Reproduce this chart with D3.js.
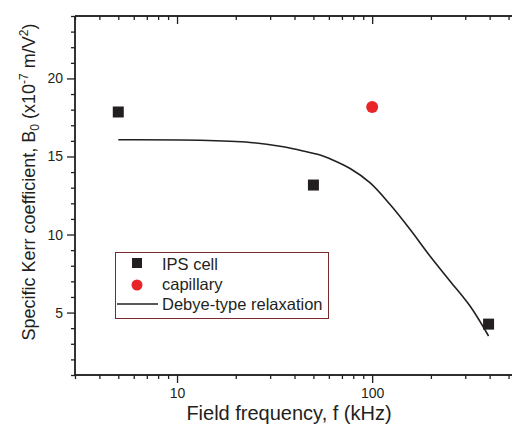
<!DOCTYPE html>
<html><head><meta charset="utf-8">
<script src="https://cdn.jsdelivr.net/npm/d3@7"></script>
<style>body{margin:0;background:#fff}svg{display:block}text{font-family:"Liberation Sans",Arial,sans-serif;fill:#231f20}</style>
</head><body><svg id="c" width="512" height="428"></svg>
<script>
const ipsFreq = [5, 50, 395];
const ipsB = [17.85, 13.17, 4.26];
const capFreq = [100];
const capB = [18.17];
const debyeFreq = [5, 13.1, 23.7, 33.7, 42.7, 54.1, 60.9, 77.1, 97.7, 123.6, 156.6, 198.2, 251, 318, 395];
const debyeB = [16.07, 16.04, 15.9, 15.66, 15.4, 15.1, 14.85, 14.23, 13.31, 11.92, 10.32, 8.61, 7.01, 5.4, 3.5];
const xMajor = [10, 100];
const yMajor = [5, 10, 15, 20];
const legendLabels = ["IPS cell", "capillary", "Debye-type relaxation"];

const svg = d3.select("#c");
const ink = "#231f20";
const x = d3.scaleLog().domain([3, 600]).range([75, 524]);
const y = d3.scaleLinear().domain([1, 24]).range([375, 16]);

const xMinor = [];
[1, 10, 100].forEach(d => { for (let k = 1; k <= 9; k++) { const v = d * k; if (v >= 3 && v <= 600 && !xMajor.includes(v)) xMinor.push(v); } });
const yMinor = d3.range(1, 25).filter(v => !yMajor.includes(v));

// bottom axis
const gB = svg.append("g").attr("transform", `translate(0,${y.range()[0]})`);
gB.call(d3.axisBottom(x).tickValues(xMajor).tickFormat(d3.format("d")).tickSize(8).tickPadding(5));
gB.append("g").call(d3.axisBottom(x).tickValues(xMinor).tickFormat("").tickSize(4));
// top axis (ticks inward)
const gT = svg.append("g").attr("transform", `translate(0,${y.range()[1]})`);
gT.call(d3.axisBottom(x).tickValues(xMajor).tickFormat("").tickSize(8));
gT.append("g").call(d3.axisBottom(x).tickValues(xMinor).tickFormat("").tickSize(4));
// left axis
const gL = svg.append("g").attr("transform", `translate(${x.range()[0]},0)`);
gL.call(d3.axisLeft(y).tickValues(yMajor).tickSize(8).tickPadding(4));
gL.append("g").call(d3.axisLeft(y).tickValues(yMinor).tickFormat("").tickSize(4));

svg.selectAll(".domain").attr("stroke", ink).attr("stroke-width", 1.4);
svg.selectAll(".tick line").attr("stroke", ink).attr("stroke-width", 1.3);
svg.selectAll(".tick text").attr("font-size", 14).attr("fill", ink).attr("font-family", '"Liberation Sans",Arial,sans-serif');
gB.selectAll(".domain").attr("d", `M${x.range()[0]},0H${x.range()[1]}`);
gT.selectAll(".domain").attr("d", `M${x.range()[0]},0H${x.range()[1]}`);
gL.selectAll(".domain").attr("d", `M0,${y.range()[0]}V${y.range()[1]}`);

// curve
const line = d3.line().x(d => x(d[0])).y(d => y(d[1])).curve(d3.curveCatmullRom.alpha(0.5));
svg.append("path").datum(debyeFreq.map((f, i) => [f, debyeB[i]]))
  .attr("d", line).attr("fill", "none").attr("stroke", ink).attr("stroke-width", 1.6);

// IPS squares
svg.selectAll(".sq").data(ipsFreq.map((f, i) => [f, ipsB[i]])).enter().append("rect")
  .attr("x", d => x(d[0]) - 5.5).attr("y", d => y(d[1]) - 5.5).attr("width", 11).attr("height", 11).attr("fill", ink);
// capillary
svg.selectAll(".ci").data(capFreq.map((f, i) => [f, capB[i]])).enter().append("circle")
  .attr("cx", d => x(d[0])).attr("cy", d => y(d[1])).attr("r", 6).attr("fill", "#e8262a");

// legend
const lg = svg.append("g");
lg.append("rect").attr("x", 115.5).attr("y", 252.5).attr("width", 213).attr("height", 66)
  .attr("fill", "#fff").attr("stroke", "#7a2a2a").attr("stroke-width", 1);
lg.append("rect").attr("x", 132).attr("y", 258).attr("width", 10).attr("height", 10).attr("fill", ink);
lg.append("circle").attr("cx", 137).attr("cy", 285).attr("r", 5.5).attr("fill", "#e8262a");
lg.append("line").attr("x1", 117).attr("x2", 158).attr("y1", 304).attr("y2", 304).attr("stroke", ink).attr("stroke-width", 1.6);
[270, 290, 310].forEach((yy, i) => lg.append("text").attr("x", 162).attr("y", yy).attr("font-size", 16.5).text(legendLabels[i]));

// axis titles
svg.append("text").attr("x", 289).attr("y", 420).attr("text-anchor", "middle").attr("font-size", 20).text("Field frequency, f (kHz)");
const yt = svg.append("text").attr("transform", "translate(35,182) rotate(-90)").attr("text-anchor", "middle").attr("font-size", 18);
yt.append("tspan").text("Specific Kerr coefficient, B");
yt.append("tspan").attr("font-size", 12).attr("dy", 4).text("0");
yt.append("tspan").attr("dy", -4).text(" (x10");
yt.append("tspan").attr("font-size", 12).attr("dy", -7).text("-7");
yt.append("tspan").attr("dy", 7).text(" m/V");
yt.append("tspan").attr("font-size", 12).attr("dy", -7).text("2");
yt.append("tspan").attr("dy", 7).text(")");
</script></body></html>
